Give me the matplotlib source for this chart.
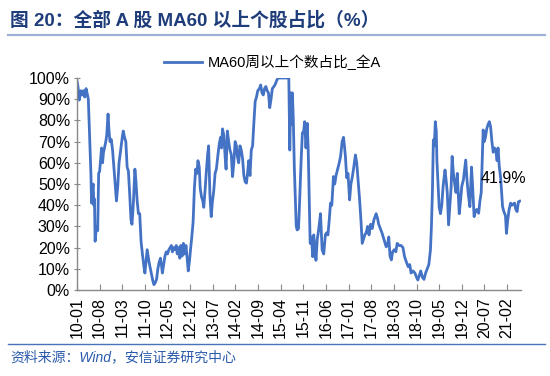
import matplotlib
matplotlib.use("Agg")
import matplotlib.pyplot as plt
from matplotlib.lines import Line2D

# months since 2010-01
t_month = [0.0, 0.3, 0.7, 1.2, 1.6, 2.0, 2.4, 2.8, 3.1, 3.5, 4.0, 4.3, 4.5, 4.8, 5.0, 5.2, 5.4, 5.6, 5.9, 6.2,
           6.4, 6.7, 7.0, 7.4, 7.6, 7.9, 8.2, 8.5, 8.9, 9.2, 9.6, 9.9, 10.2, 10.6, 11.0, 11.4, 11.8, 12.2, 12.6, 13.0,
           13.5, 14.0, 14.3, 14.7, 15.1, 15.5, 15.9, 16.3, 16.7, 17.0, 17.4, 17.9, 18.2, 18.6, 19.0, 19.4, 19.8, 20.3, 20.7, 21.0,
           21.4, 21.7, 22.0, 22.3, 22.7, 23.1, 23.5, 23.8, 24.2, 24.6, 25.0, 25.4, 25.8, 26.1, 26.4, 26.8, 27.2, 27.6, 28.0, 28.4,
           28.8, 29.2, 29.5, 29.9, 30.3, 30.7, 31.0, 31.4, 31.8, 32.1, 32.5, 32.9, 33.3, 33.7, 34.0, 34.4, 34.8, 35.1, 35.5, 35.9,
           36.3, 36.7, 37.1, 37.4, 37.8, 38.1, 38.5, 38.9, 39.2, 39.6, 40.0, 40.4, 40.7, 41.1, 41.5, 41.9, 42.3, 42.7, 43.1, 43.6,
           44.0, 44.4, 44.7, 45.0, 45.4, 45.8, 46.1, 46.5, 46.9, 47.3, 47.7, 48.1, 48.5, 48.9, 49.3, 49.6, 50.0, 50.4, 50.8, 51.2,
           51.6, 52.0, 52.4, 52.8, 53.1, 53.5, 53.9, 54.3, 54.7, 55.1, 55.5, 55.9, 56.4, 56.8, 57.2, 57.6, 58.0, 58.4, 58.8, 59.2,
           59.6, 60.0, 60.4, 60.9, 61.3, 61.8, 62.2, 63.0, 64.0, 65.0, 65.5, 65.8, 66.1, 66.3, 66.6, 66.9, 67.2, 67.8, 68.1, 68.5,
           68.8, 69.3, 69.7, 70.1, 70.4, 70.8, 71.2, 71.5, 72.1, 72.5, 72.9, 73.2, 73.5, 73.9, 74.3, 74.7, 75.3, 75.8, 76.3, 76.8,
           77.2, 77.6, 78.0, 78.4, 78.8, 79.3, 79.7, 80.1, 80.6, 81.1, 81.5, 82.0, 82.4, 82.7, 83.0, 83.4, 83.8, 84.3, 84.7, 85.1,
           85.5, 86.1, 86.5, 87.0, 87.4, 87.8, 88.2, 88.6, 89.0, 89.4, 89.9, 90.3, 90.8, 91.3, 91.8, 92.5, 92.9, 93.3, 93.8, 94.3,
           94.9, 95.6, 96.0, 96.4, 96.8, 97.2, 97.6, 98.1, 98.6, 99.0, 99.6, 100.2, 100.8, 101.3, 101.9, 102.4, 102.9, 103.3, 103.9, 104.5,
           105.0, 105.4, 105.9, 106.3, 106.8, 107.3, 107.8, 108.3, 108.8, 109.3, 109.6, 109.9, 110.2, 110.5, 110.8, 111.1, 111.3, 111.7, 112.0, 112.4,
           112.8, 113.2, 113.8, 114.2, 114.5, 114.9, 115.3, 115.7, 116.0, 116.4, 116.8, 117.2, 117.6, 118.2, 118.6, 119.0, 119.5, 120.2, 120.6, 121.0,
           121.5, 122.0, 122.4, 122.8, 123.2, 123.6, 124.2, 124.6, 125.0, 125.6, 125.9, 126.3, 126.7, 127.1, 127.5, 127.9, 128.3, 128.7, 129.1, 129.5,
           129.9, 130.2, 130.6, 131.0, 131.6, 132.0, 132.5, 132.8, 133.2, 133.6, 134.1, 134.5, 134.9, 135.3, 135.7, 136.1, 136.5, 136.9]

pct = [98.7, 96, 89.6, 94, 92, 94, 91, 95, 93, 90, 69, 55, 41, 48, 50, 40, 43, 23, 28, 30,
       28, 55, 56, 63, 67, 60, 65, 67, 70, 73, 83, 75, 70, 71, 66, 58, 50, 42, 49, 60,
       66, 72, 75, 72, 70, 58, 56, 45, 33, 31, 40, 57, 52, 42, 36, 36, 23, 16, 11, 8,
       14, 19, 16, 13, 10, 7, 4, 2.5, 3.5, 5, 10, 13, 15, 12, 8, 12, 16, 18, 17, 19,
       20, 21, 18, 20, 19, 21, 17, 20, 15, 21, 16, 22, 17, 21, 16, 9, 14, 19, 25, 32,
       48, 57, 55, 61, 58, 48, 44, 42, 39, 47, 56, 64, 68, 45, 34.6, 42, 47, 55, 57, 64,
       69, 72, 67, 76, 73, 63, 57, 75, 70, 66, 64, 53.5, 60, 70, 68, 63, 60, 68, 66, 62,
       54, 51, 50.4, 56, 61, 54, 66, 68, 79, 89, 91, 94, 95, 96.7, 93, 92, 95, 96, 94, 93,
       86, 90, 95, 96, 97, 99, 100, 100, 100, 100, 100, 66, 93, 78, 93, 80, 58, 30, 28.3, 29,
       40, 61, 74, 75, 79.4, 67, 78.6, 66, 22, 25, 15.7, 26, 20, 14, 24, 28, 36, 19, 17, 26,
       27, 26, 33, 41, 40, 53.5, 50, 54, 57, 60, 63, 70, 72, 68, 63, 53, 55, 42.5, 50, 53,
       57, 63.7, 60, 50, 42.5, 33, 22, 24, 26, 27, 30, 26, 31, 29, 33, 36, 34, 31, 29, 27,
       24, 20.4, 21, 25, 16, 14.2, 18, 19, 18, 22, 21, 21, 20, 15.7, 13, 11, 12, 8, 9, 8,
       6, 4.7, 7, 9, 6, 5, 8, 10, 12, 19, 30, 46, 70.8, 68, 79.4, 75, 61, 48, 39, 36,
       40, 48.7, 56.6, 51, 46, 30.7, 40, 48.7, 63, 55, 50, 46, 55, 36, 42, 49, 52, 61.3, 52, 45,
       39.3, 58, 47, 34.6, 37, 38, 36.2, 42, 46, 75.5, 70, 72, 76, 78, 79.4, 77, 70, 65, 67, 66,
       61, 67, 58, 53, 39.3, 37, 35, 26.7, 33, 37.8, 41, 40, 40.5, 41, 38, 37, 41.6, 41.9]

tick_labels = ["10-01", "10-08", "11-03", "11-10", "12-05", "12-12", "13-07", "14-02", "14-09", "15-04",
               "15-11", "16-06", "17-01", "17-08", "18-03", "18-10", "19-05", "19-12", "20-07", "21-02"]
last_label = "41.9%"

LAT_CJK = ["Liberation Sans", "Noto Sans CJK SC"]
plt.rcParams["font.family"] = LAT_CJK

fig = plt.figure(figsize=(5.5, 3.76), dpi=100)
ax = fig.add_axes([77 / 550, 86 / 376, 444 / 550, 212 / 376])

line_color = "#4472C4"
ax.plot(t_month, pct, color=line_color, lw=2.0, label="MA60周以上个数占比_全A")

ax.set_xlim(0, 137.3)
ax.set_ylim(0, 100)
ax.set_yticks(range(0, 101, 10))
ax.set_yticklabels([f"{v}%" for v in range(0, 101, 10)], fontsize=11.5)
ax.set_xticks([7 * i for i in range(len(tick_labels))])
ax.set_xticklabels(tick_labels, rotation=90, fontsize=11.5)

for s in ["top", "right"]:
    ax.spines[s].set_visible(False)
for s in ["left", "bottom"]:
    ax.spines[s].set_color("#898989")
    ax.spines[s].set_linewidth(1.0)
ax.tick_params(axis="x", direction="in", length=4, color="#898989", pad=5)
ax.tick_params(axis="y", direction="inout", length=4, color="#898989", pad=3)

ax.annotate(last_label, xy=(t_month[-1], pct[-1]), xytext=(-16, 23), textcoords="offset pixels",
            ha="center", va="center", fontsize=11.5)

ax.legend(loc="center", bbox_to_anchor=(0.495, 0.835), bbox_transform=fig.transFigure,
          frameon=False, fontsize=10.5, handlelength=2.6, handletextpad=0.4)

# header and footer
fig.text(10 / 550, 1 - 20 / 376, "图 20：全部 A 股 MA60 以上个股占比（%）", ha="left", va="center",
         fontsize=13.5, fontweight="bold", color="#1F3D7A")
fig.add_artist(Line2D([8 / 550, 545 / 550], [1 - 35 / 376, 1 - 35 / 376], color="#9DB0D6", lw=1.6))
fig.add_artist(Line2D([8 / 550, 545 / 550], [1 - 344 / 376, 1 - 344 / 376], color="#4A72B8", lw=1.0))
fig.text(10 / 550, 1 - 357 / 376, "资料来源：Wind，安信证券研究中心", ha="left", va="center",
         fontsize=10, style="italic", color="#2A5AAA")

fig.savefig("out.png", dpi=100)
